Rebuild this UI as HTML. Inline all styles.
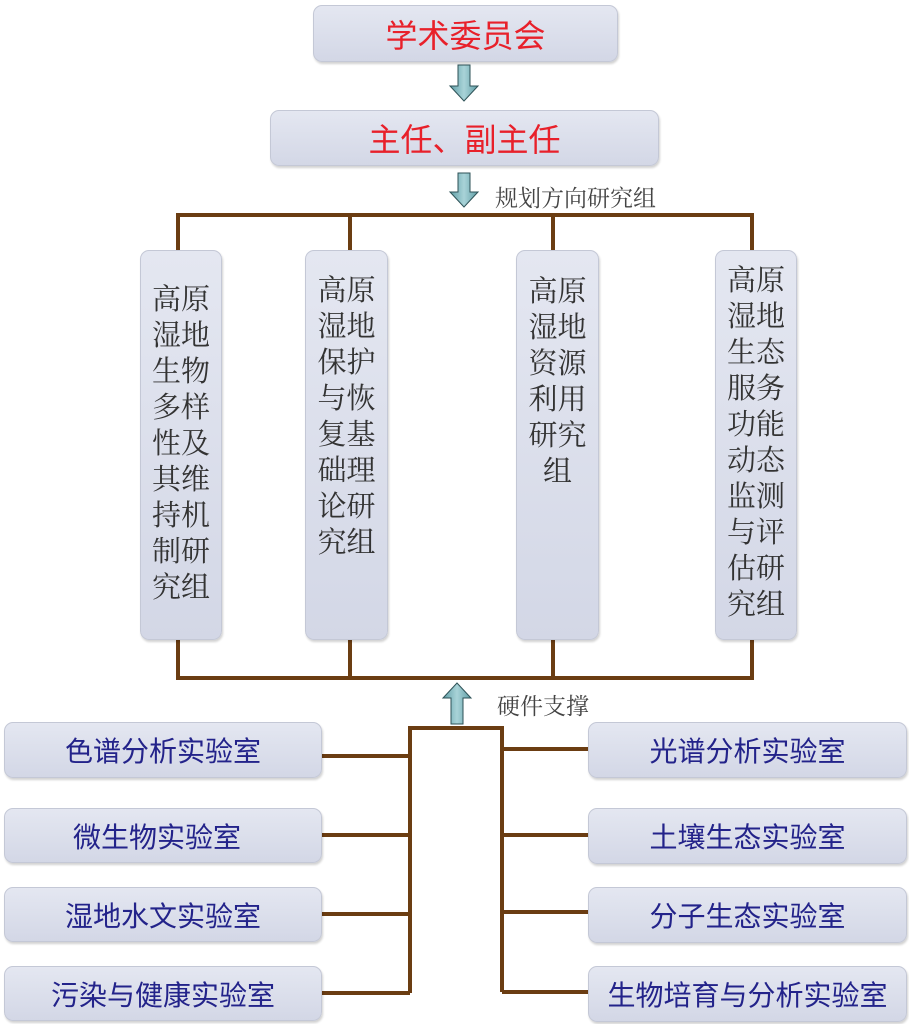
<!DOCTYPE html>
<html><head><meta charset="utf-8"><style>
body{margin:0;width:909px;height:1024px;background:#fff;position:relative;overflow:hidden;font-family:"Liberation Sans","Noto Sans CJK SC",sans-serif}
.b{position:absolute;box-sizing:border-box;border:1.5px solid #c4c8d6;border-radius:9px;background:linear-gradient(#e4e7f1,#d3d7e6);box-shadow:1px 2px 2px rgba(0,0,0,0.18)}
.h{display:flex;align-items:center;justify-content:center;white-space:nowrap}
.red{color:#e8202a;font-size:32px}
.lab{color:#23238a;font-size:28px}
.v{font-family:"Noto Serif CJK SC","Liberation Serif",serif;color:#333;font-size:29px;line-height:36px;text-align:center;position:absolute;width:100%;}
.t{position:absolute;color:#444;font-size:23px;font-family:"Noto Serif CJK SC","Liberation Serif",serif}
</style></head><body>
<svg width="909" height="1024" style="position:absolute;left:0;top:0">
<g stroke="#6b3d12" stroke-width="4" fill="none">
<path d="M178 250V215H752V250M350 215V250M553 215V250"/>
<path d="M178 640V678H752V640M350 640V678M553 640V678"/>
<path d="M410 993V728H502V992"/>
<path d="M322 756H410M322 835H410M322 914H410M322 993H410"/>
<path d="M502 749H588M502 835H588M502 912H588M502 992H588"/>
</g>
<defs><linearGradient id="g" x1="0" x2="1"><stop offset="0" stop-color="#5f9ea6"/><stop offset="0.5" stop-color="#a9d3d8"/><stop offset="1" stop-color="#5f9ea6"/></linearGradient></defs>
<g fill="url(#g)" stroke="#2e5257" stroke-width="1">
<path d="M458 65H470V86H478L464 101L450 86H458Z"/>
<path d="M458 173H470V192H478L464 207L450 192H458Z"/>
<path d="M451 724H463V698H471L457 683L443 698H451Z"/>
</g>
</svg>
<div class="b h red" style="left:313px;top:5px;width:305px;height:57px">学术委员会</div>
<div class="b h red" style="left:270px;top:110px;width:389px;height:56px">主任、副主任</div>
<div class="t" style="left:495px;top:180px">规划方向研究组</div>
<div class="t" style="left:497px;top:688px">硬件支撑</div>
<div class="b" style="left:140px;top:250px;width:82px;height:390px"><div class="v" style="top:29px">高原<br>湿地<br>生物<br>多样<br>性及<br>其维<br>持机<br>制研<br>究组</div></div>
<div class="b" style="left:305px;top:250px;width:83px;height:390px"><div class="v" style="top:20px">高原<br>湿地<br>保护<br>与恢<br>复基<br>础理<br>论研<br>究组</div></div>
<div class="b" style="left:516px;top:250px;width:83px;height:390px"><div class="v" style="top:21px">高原<br>湿地<br>资源<br>利用<br>研究<br>组</div></div>
<div class="b" style="left:715px;top:250px;width:82px;height:390px"><div class="v" style="top:10px">高原<br>湿地<br>生态<br>服务<br>功能<br>动态<br>监测<br>与评<br>估研<br>究组</div></div>
<div class="b h lab" style="left:4px;top:722px;width:318px;height:56px">色谱分析实验室</div>
<div class="b h lab" style="left:4px;top:808px;width:318px;height:55px;justify-content:flex-start;padding-left:68px">微生物实验室</div>
<div class="b h lab" style="left:4px;top:887px;width:318px;height:55px">湿地水文实验室</div>
<div class="b h lab" style="left:4px;top:966px;width:318px;height:55px">污染与健康实验室</div>
<div class="b h lab" style="left:588px;top:722px;width:319px;height:56px">光谱分析实验室</div>
<div class="b h lab" style="left:588px;top:808px;width:319px;height:56px">土壤生态实验室</div>
<div class="b h lab" style="left:588px;top:887px;width:319px;height:56px">分子生态实验室</div>
<div class="b h lab" style="left:588px;top:966px;width:319px;height:56px">生物培育与分析实验室</div>
</body></html>
